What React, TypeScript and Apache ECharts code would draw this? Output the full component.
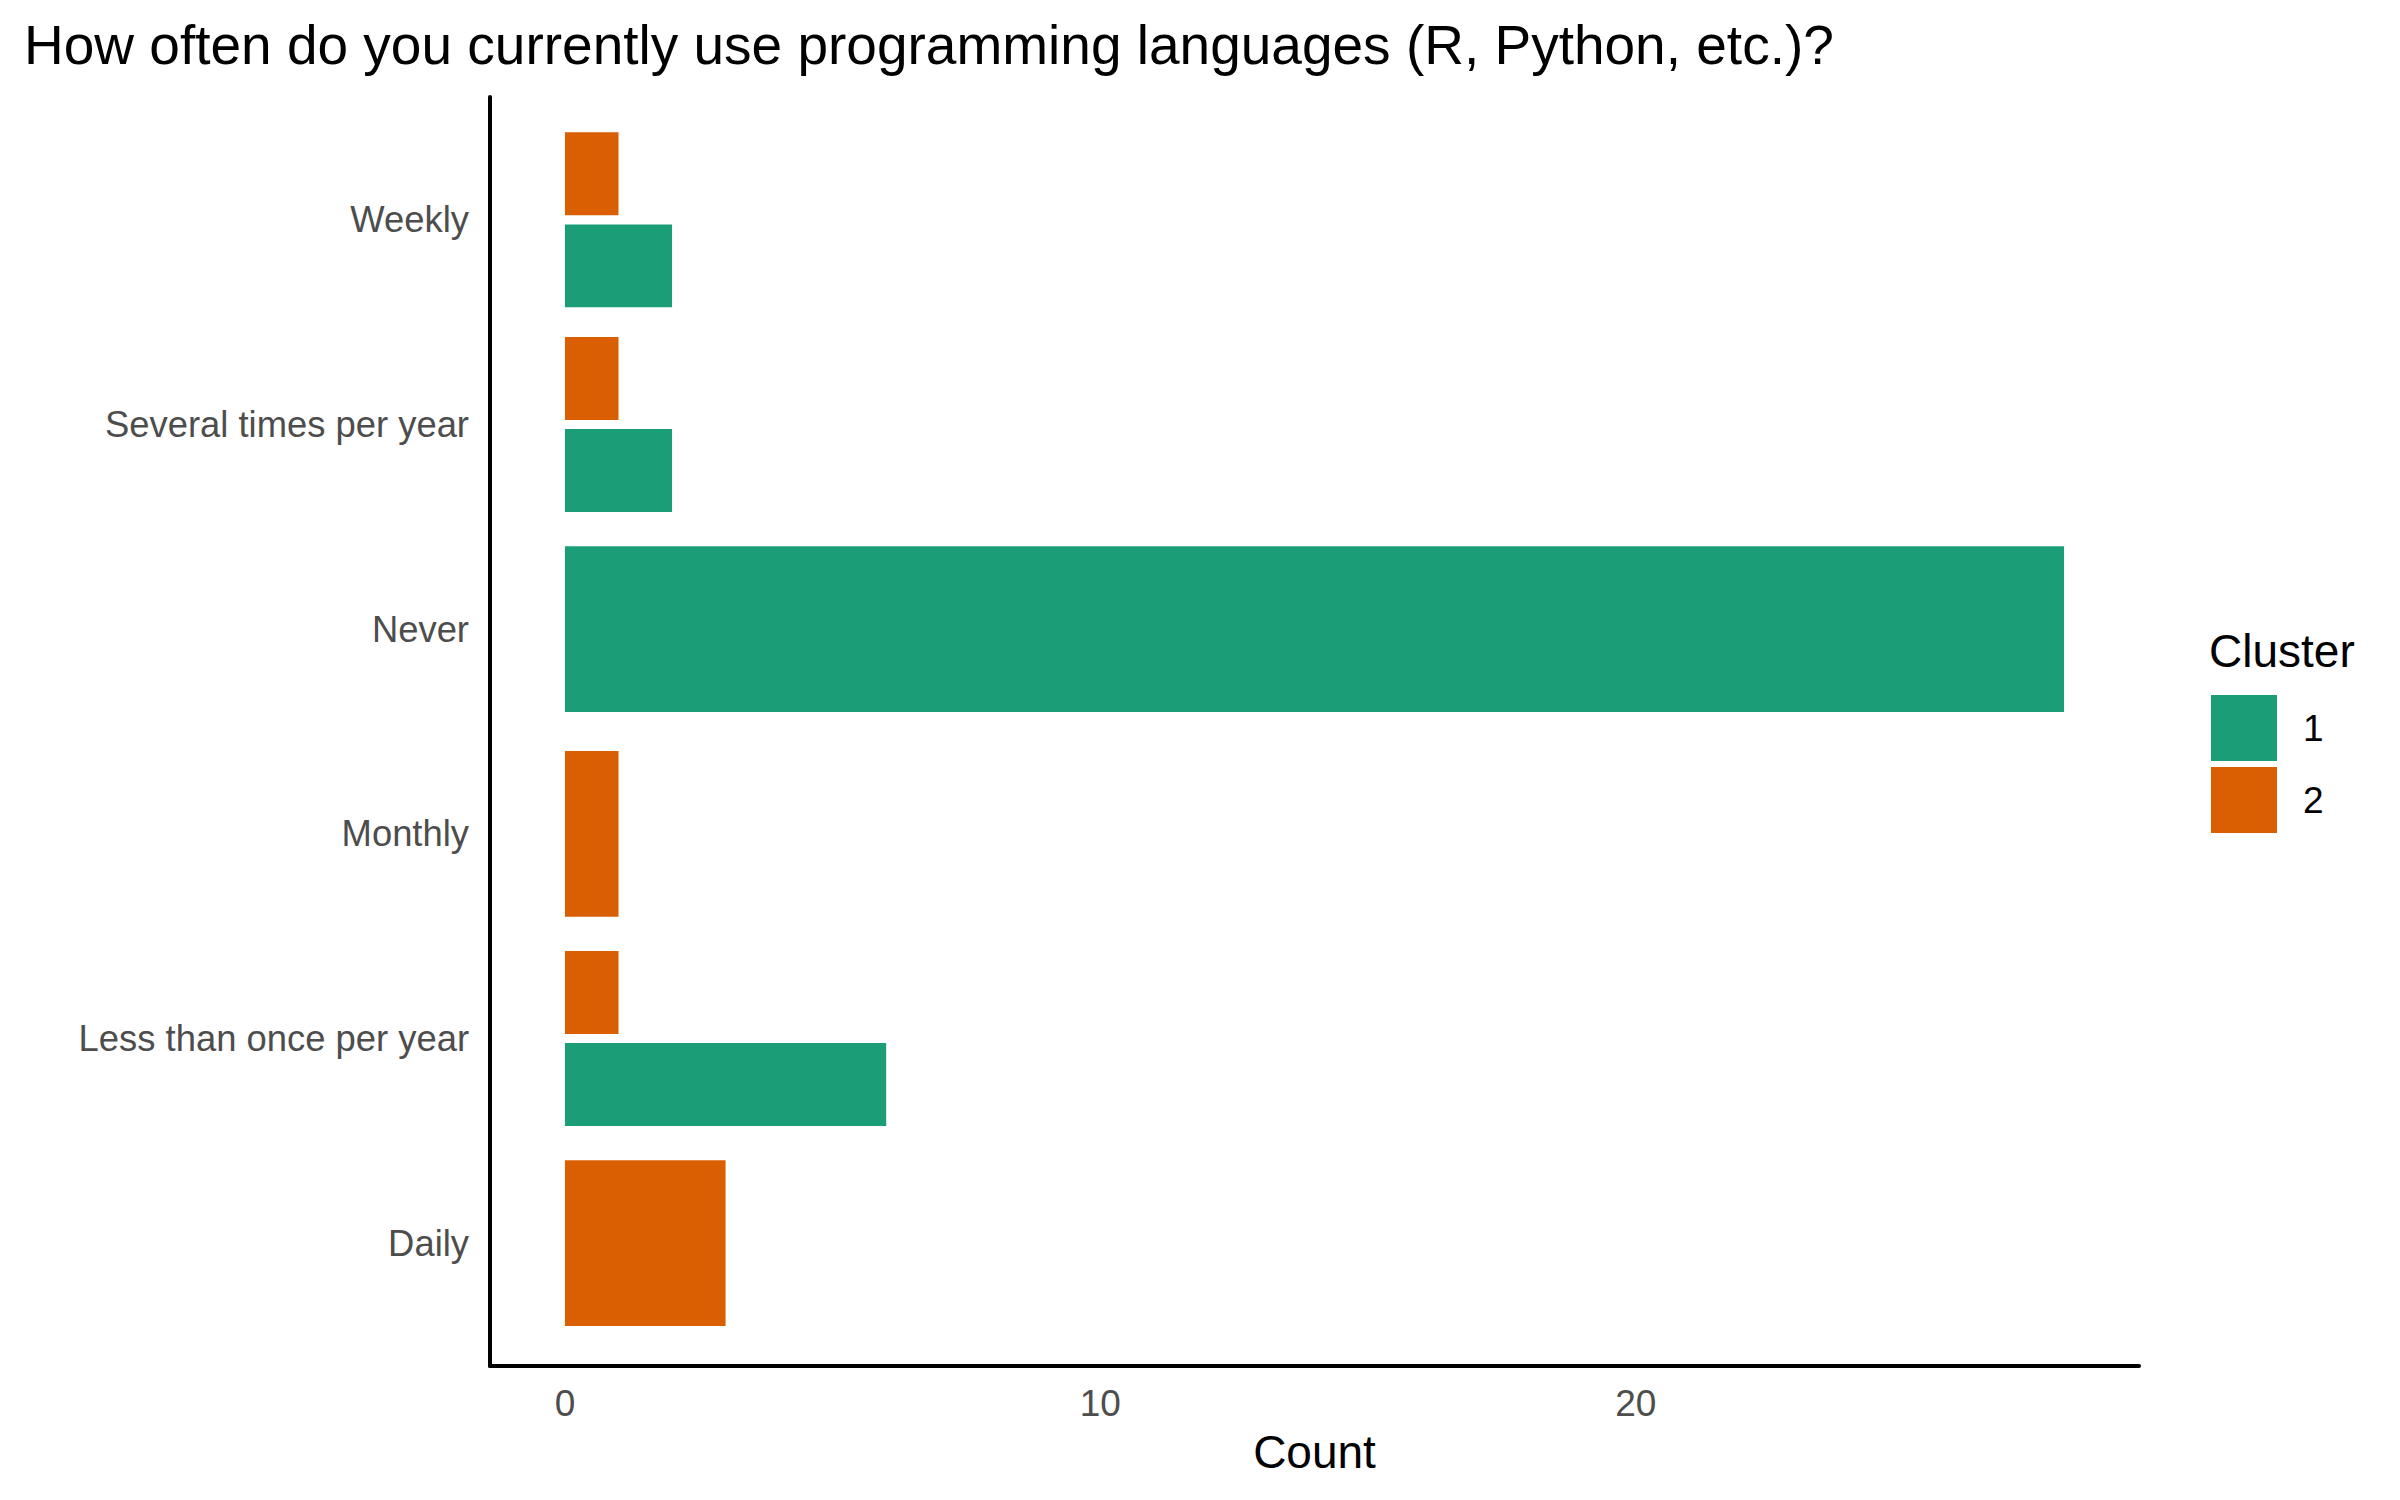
import React, { useEffect, useRef } from "react";
import * as echarts from "echarts";

const categories = ["Daily", "Less than once per year", "Monthly", "Never", "Several times per year", "Weekly"];
const clusters = ["1", "2"];
const cluster1 = [0, 6, 0, 28, 2, 2];
const cluster2 = [3, 1, 1, 0, 1, 1];
const xTicks = [0, 10, 20];
const colors = ["#1B9E77", "#D95F02"];

const FONT = "'Liberation Sans', Arial, sans-serif";

function buildSeriesData() {
  const all = [cluster1, cluster2];
  const out: number[][][] = [[], []];
  categories.forEach((_, i) => {
    const present = all.map((s, c) => (s[i] > 0 ? c : -1)).filter((c) => c >= 0);
    const n = present.length;
    const slot = 0.9 / n;
    present.forEach((c, k) => {
      const center = i + 1 - 0.45 + (k + 0.5) * slot;
      out[c].push([all[c][i], center, (slot * 0.9) / 2]);
    });
  });
  return out;
}

export default function App() {
  const ref = useRef<HTMLDivElement>(null);
  useEffect(() => {
    if (!ref.current) return;
    const chart = echarts.init(ref.current, null, { renderer: "svg" });
    const data = buildSeriesData();
    const renderItem = (params: any, api: any) => {
      const v = api.value(0);
      const c = api.value(1);
      const h = api.value(2);
      const p1 = api.coord([0, c + h]);
      const p2 = api.coord([v, c - h]);
      return {
        type: "rect",
        shape: { x: p1[0], y: p1[1], width: p2[0] - p1[0], height: p2[1] - p1[1] },
        style: { fill: api.visual("color") },
      };
    };
    chart.setOption({
      animation: false,
      backgroundColor: "#ffffff",
      title: [
        {
          text: "How often do you currently use programming languages (R, Python, etc.)?",
          left: 19,
          top: 12,
          textStyle: { fontFamily: FONT, fontSize: 55, fontWeight: "normal", color: "#000000" },
        },
        {
          text: "Cluster",
          left: 2204,
          top: 623,
          textStyle: { fontFamily: FONT, fontSize: 46, fontWeight: "normal", color: "#000000" },
        },
      ],
      legend: {
        orient: "vertical",
        left: 2211,
        top: 695,
        padding: 0,
        itemWidth: 66,
        itemHeight: 66,
        itemGap: 6,
        icon: "rect",
        data: clusters,
        textStyle: { fontFamily: FONT, fontSize: 37, color: "#000000", padding: [0, 0, 0, 21] },
      },
      grid: { left: 490, right: 261, top: 97, bottom: 134, containLabel: false },
      xAxis: {
        type: "value",
        min: -1.4,
        max: 29.4,
        name: "Count",
        nameLocation: "middle",
        nameGap: 63,
        nameTextStyle: { fontFamily: FONT, fontSize: 46, color: "#000000" },
        axisLine: { show: true, onZero: false, lineStyle: { color: "#000000", width: 4 } },
        axisTick: { show: false },
        splitLine: { show: false },
        axisLabel: {
          customValues: xTicks,
          margin: 19,
          fontFamily: FONT,
          fontSize: 37,
          color: "#4D4D4D",
        },
      },
      yAxis: {
        type: "value",
        min: 0.4,
        max: 6.6,
        axisLine: { show: true, onZero: false, lineStyle: { color: "#000000", width: 4 } },
        axisTick: { show: false },
        splitLine: { show: false },
        axisLabel: {
          customValues: categories.map((_, i) => i + 1),
          formatter: (v: number) => categories[Math.round(v) - 1] ?? "",
          margin: 21,
          padding: [12, 0, 0, 0],
          fontFamily: FONT,
          fontSize: 36.4,
          color: "#4D4D4D",
        },
      },
      series: clusters.map((name, c) => ({
        name,
        type: "custom",
        renderItem,
        itemStyle: { color: colors[c] },
        encode: { x: 0, y: 1 },
        data: data[c],
      })),
    });
    return () => chart.dispose();
  }, []);
  return (
    <div
      ref={ref}
      style={{ position: "fixed", left: 0, top: 0, width: 2400, height: 1500 }}
    />
  );
}
